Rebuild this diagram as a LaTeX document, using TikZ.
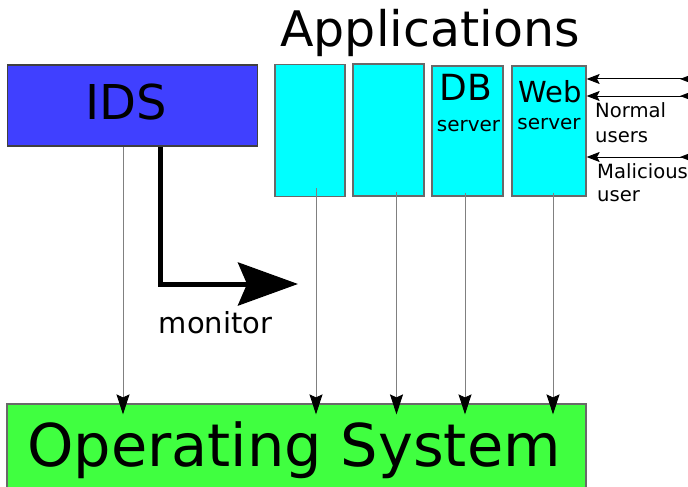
\documentclass[tikz,border=0pt]{standalone}
\usepackage{fontspec}
\setmainfont{DejaVu Sans}
\usetikzlibrary{arrows.meta}
\definecolor{idsblue}{RGB}{64,64,255}
\definecolor{appcyan}{RGB}{0,255,255}
\definecolor{osgreen}{RGB}{64,255,64}
\definecolor{edgegray}{RGB}{105,105,105}
\definecolor{conngray}{RGB}{128,128,128}
\newcommand{\fsz}[1]{\fontsize{#1}{#1}\selectfont}
\begin{document}
\begin{tikzpicture}[x=1pt,y=-1pt,
  box/.style={draw=edgegray, line width=1.2pt, inner sep=0pt, rectangle},
  txt/.style={anchor=base, inner sep=0pt},
  side/.style={anchor=base west, inner sep=0pt, font=\fsz{19.6}},
  conn/.style={draw=conngray, line width=0.9pt, shorten >=-11pt,
    -{Stealth[length=20pt,width=13pt,inset=3pt,color=black]}},
  uarrow/.style={draw=black, line width=1pt,
    {Stealth[length=13pt,width=10pt,inset=2.5pt,reversed]}-{Stealth[length=13pt,width=10pt,inset=2.5pt]}},
  monarrow/.style={draw=black, line width=5pt,
    -{Stealth[length=60pt,width=43pt,inset=9pt]}}]
\useasboundingbox (0,0) rectangle (688,487);
\clip (0,0) rectangle (688,487);
% boxes
\node[box, fill=idsblue, draw=black!75, minimum width=250pt, minimum height=81pt] (ids) at (132.5,105.5) {};
\node[box, fill=appcyan, minimum width=70pt, minimum height=132pt] (app1) at (310,130.5) {};
\node[box, fill=appcyan, minimum width=71pt, minimum height=132pt] (app2) at (388.5,130) {};
\node[box, fill=appcyan, minimum width=71pt, minimum height=130pt] (db) at (467.5,131) {};
\node[box, fill=appcyan, minimum width=74pt, minimum height=130pt] (web) at (549,131) {};
\node[box, fill=osgreen, minimum width=579pt, minimum height=100pt] (os) at (296.5,454) {};
% texts
\node[txt, font=\fsz{49}] (apptitle) at (430,47) {Applications};
\node[txt, font=\fsz{48}] (idstext) at (126,119) {IDS};
\node[txt, font=\fsz{36}] (dbtext) at (466,100) {DB};
\node[txt, font=\fsz{20}] (dbserver) at (468.5,131) {server};
\node[txt, font=\fsz{29}] (webtext) at (550,102) {Web};
\node[txt, font=\fsz{20}] (webserver) at (549,129) {server};
\node[txt, font=\fsz{59}] (ostext) at (294,466) {Operating System};
\node[txt, font=\fsz{29}] (montext) at (215.5,333) {monitor};
\node[side] (normal1) at (595,117) {Normal};
\node[side] (normal2) at (595,142) {users};
\node[side] (malicious1) at (597,178) {Malicious};
\node[side] (malicious2) at (597,201) {user};
% connectors to OS
\draw[conn] ([xshift=-9.5pt]ids.south) coordinate (c0) -- (c0 |- os.north);
\draw[conn] ([shift={(6pt,9pt)}]app1.south) coordinate (c1) -- (c1 |- os.north);
\draw[conn] ([shift={(8pt,5pt)}]app2.south) coordinate (c2) -- (c2 |- os.north);
\draw[conn] ([shift={(-2.5pt,4pt)}]db.south) coordinate (c3) -- (c3 |- os.north);
\draw[conn] ([shift={(4pt,4pt)}]web.south) coordinate (c4) -- (c4 |- os.north);
% monitor arrow
\coordinate (montip) at (298,284);
\draw[monarrow] ([xshift=28pt]ids.south) |- (montip);
% user arrows
\coordinate (u1) at (693,79);
\coordinate (u2) at (693,96);
\coordinate (u3) at (693,157);
\draw[uarrow] (u1) -- (u1 -| web.east);
\draw[uarrow] (u2) -- (u2 -| web.east);
\draw[uarrow] (u3) -- (u3 -| web.east);
\end{tikzpicture}
\end{document}
